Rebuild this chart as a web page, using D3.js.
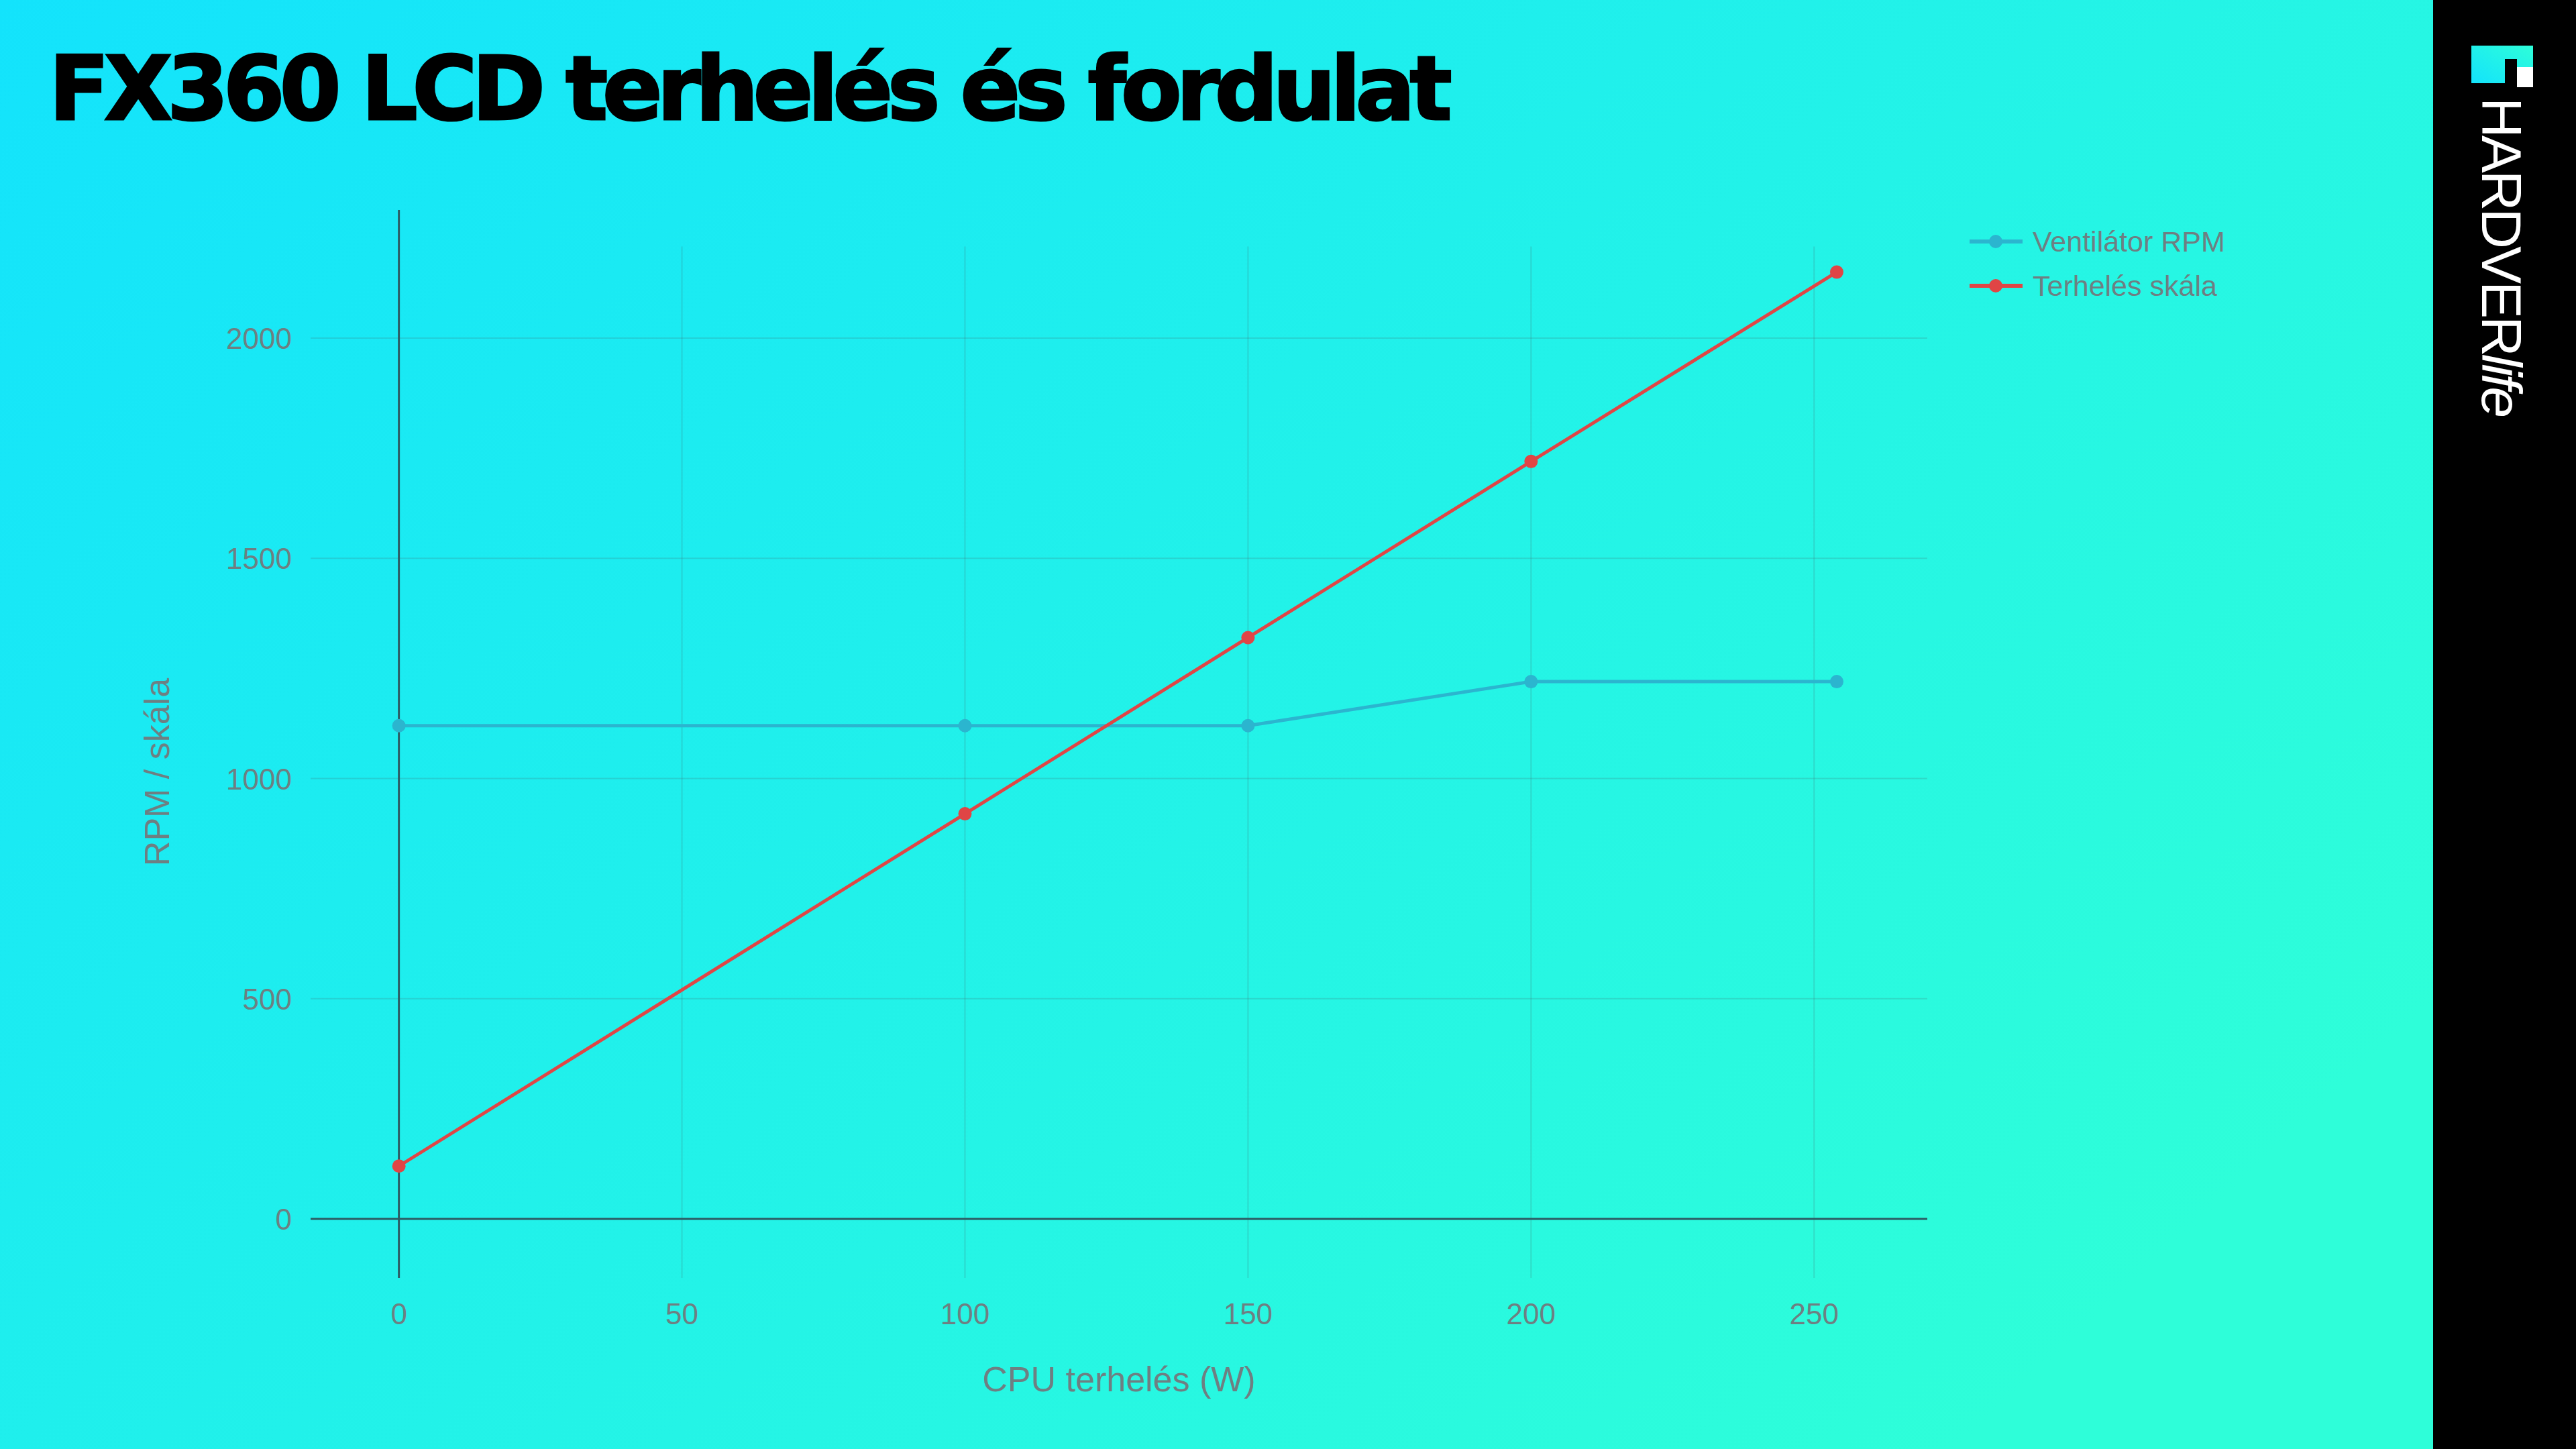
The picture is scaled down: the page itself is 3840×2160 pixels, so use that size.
<!DOCTYPE html>
<html><head><meta charset="utf-8">
<script src="https://cdn.jsdelivr.net/npm/d3@7"></script>
<style>body{margin:0;overflow:hidden}svg{display:block}</style>
</head><body>
<script>
const loads=[0,100,150,200,254];
const fanRPM=[1120,1120,1120,1220,1220];
const loadScale=[120,920,1320,1720,2150];
const xTicks=[0,50,100,150,200,250];
const yTicks=[0,500,1000,1500,2000];
const seriesNames=["Ventilátor RPM","Terhelés skála"];
const colors=["#2bb5cf","#e04545"];

const W=3840,H=2160;
const svg=d3.select("body").append("svg").attr("width",W).attr("height",H);
const defs=svg.append("defs");
const g=defs.append("linearGradient").attr("id","bg").attr("x1","0").attr("y1","0").attr("x2","1").attr("y2","0.6");
g.append("stop").attr("offset","0").attr("stop-color","#13e3fc");
g.append("stop").attr("offset","1").attr("stop-color","#2efed9");
svg.append("rect").attr("width",W).attr("height",H).attr("fill","url(#bg)");

const x=d3.scaleLinear().domain([-15.6,270]).range([463,2873]);
const y=d3.scaleLinear().domain([-134,2291]).range([1905,313]);
const font="'Liberation Sans', Arial, sans-serif";
const tickCol="#6e7f82";

const grid=svg.append("g").attr("stroke","rgba(70,90,95,0.18)").attr("stroke-width",2);
xTicks.forEach(t=>grid.append("line").attr("x1",x(t)).attr("x2",x(t)).attr("y1",y(2208)).attr("y2",y(-134)));
yTicks.forEach(t=>grid.append("line").attr("x1",463).attr("x2",2873).attr("y1",y(t)).attr("y2",y(t)));
svg.append("line").attr("x1",463).attr("x2",2873).attr("y1",y(0)).attr("y2",y(0)).attr("stroke","#2c5c64").attr("stroke-width",3);
svg.append("line").attr("x1",x(0)).attr("x2",x(0)).attr("y1",313).attr("y2",1905).attr("stroke","#2c5c64").attr("stroke-width",3);

svg.append("g").selectAll("text").data(xTicks).join("text").attr("x",d=>x(d)).attr("y",1974)
 .attr("text-anchor","middle").attr("font-family",font).attr("font-size",44).attr("fill",tickCol).text(d=>d);
svg.append("g").selectAll("text").data(yTicks).join("text").attr("x",435).attr("y",d=>y(d)+16)
 .attr("text-anchor","end").attr("font-family",font).attr("font-size",44).attr("fill",tickCol).text(d=>d);
svg.append("text").attr("x",1668).attr("y",2074).attr("text-anchor","middle").attr("font-family",font)
 .attr("font-size",52).attr("fill",tickCol).text("CPU terhelés (W)");
svg.append("text").attr("transform","translate(252,1151) rotate(-90)").attr("text-anchor","middle").attr("font-family",font)
 .attr("font-size",52).attr("fill",tickCol).text("RPM / skála");

[fanRPM,loadScale].forEach((vals,i)=>{
  const pts=loads.map((l,j)=>[l,vals[j]]);
  svg.append("path").datum(pts).attr("fill","none").attr("stroke",colors[i]).attr("stroke-width",5)
   .attr("d",d3.line().x(d=>x(d[0])).y(d=>y(d[1])));
  svg.append("g").selectAll("circle").data(pts).join("circle").attr("cx",d=>x(d[0])).attr("cy",d=>y(d[1]))
   .attr("r",10).attr("fill",colors[i]);
});

seriesNames.forEach((n,i)=>{
  const ly=360+i*66;
  svg.append("line").attr("x1",2936).attr("x2",3015).attr("y1",ly).attr("y2",ly).attr("stroke",colors[i]).attr("stroke-width",6);
  svg.append("circle").attr("cx",2975).attr("cy",ly).attr("r",10).attr("fill",colors[i]);
  svg.append("text").attr("x",3030).attr("y",ly+15).attr("font-family",font).attr("font-size",43).attr("fill",tickCol).text(n);
});

svg.append("text").attr("x",73).attr("y",178).attr("font-family","'DejaVu Sans', sans-serif").attr("font-weight",900)
 .attr("font-size",132).attr("letter-spacing",-8).attr("stroke","#000").attr("stroke-width",3).attr("fill","#000").text("FX360 LCD terhelés és fordulat");

svg.append("rect").attr("x",3627).attr("y",0).attr("width",213).attr("height",H).attr("fill","#000");
const lg=defs.append("linearGradient").attr("id","lg").attr("x1","0").attr("y1","1").attr("x2","1").attr("y2","0");
lg.append("stop").attr("offset","0").attr("stop-color","#13e3fc");
lg.append("stop").attr("offset","1").attr("stop-color","#2efed9");
svg.append("rect").attr("x",3684).attr("y",68).attr("width",92).attr("height",56).attr("fill","url(#lg)");
svg.append("rect").attr("x",3734).attr("y",88).attr("width",18).attr("height",36).attr("fill","#000");
svg.append("rect").attr("x",3752).attr("y",100).attr("width",24).attr("height",30).attr("fill","#fff");
svg.append("text").attr("transform","translate(3700,145) rotate(90)").attr("font-family",font).attr("font-size",84)
 .attr("fill","#fff").attr("letter-spacing",-4).text("HARDVER").append("tspan").attr("font-weight",300).attr("font-style","italic").text("life");
</script>
</body></html>
